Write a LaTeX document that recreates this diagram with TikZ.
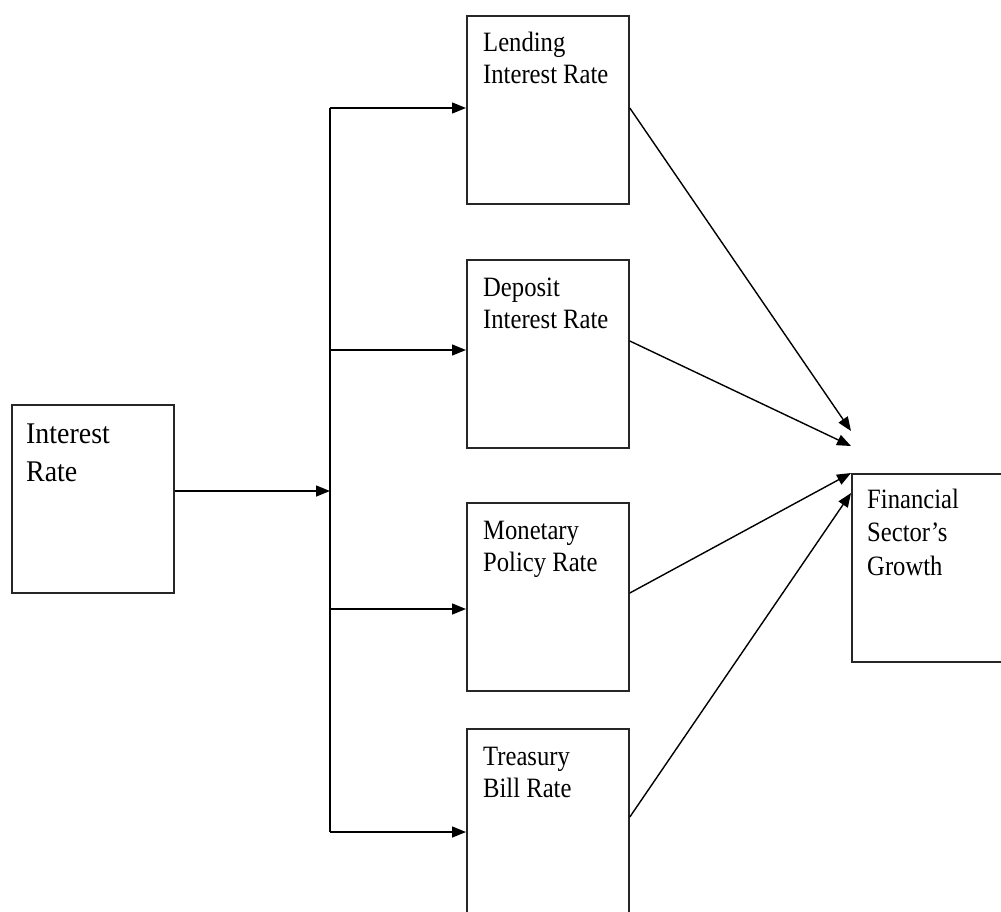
\documentclass[tikz,border=0pt]{standalone}
\usepackage{fontspec}
\setmainfont{Liberation Serif}
\newfontfamily\condserif[FakeStretch=0.88]{Liberation Serif}
\newfontfamily\condserifb[FakeStretch=0.93]{Liberation Serif}
\usetikzlibrary{arrows.meta}
\begin{document}
\begin{tikzpicture}[x=1pt,y=-1pt,
  box/.style={draw=black!85,line width=1.8pt,minimum width=162pt,minimum height=188pt,inner sep=0pt,anchor=north west},
  lbl/.style={anchor=base west,inner sep=0pt,align=left,font=\condserif\fontsize{28}{32}\selectfont},
  conn/.style={line width=1.4pt,-{Triangle[length=14pt,width=11pt]}},
  plain/.style={line width=1.4pt}]
\useasboundingbox (0,0) rectangle (1001,911);
\clip (0,0) rectangle (1001,911);
% boxes
\node[box] (ir) at (11,404) {};
\node[box] (lend) at (466,15) {};
\node[box] (dep) at (466,259) {};
\node[box] (mon) at (466,502) {};
\node[box] (tre) at (466,728) {};
\node[box] (fin) at (851,473) {};
% texts (anchored at baseline of last line)
\node[lbl,font=\condserifb\fontsize{30}{38}\selectfont] (tir) at (26,481) {Interest\\Rate};
\node[lbl] (tlend) at (483,83) {Lending\\Interest Rate};
\node[lbl] (tdep) at (483,328) {Deposit\\Interest Rate};
\node[lbl] (tmon) at (483,571) {Monetary\\Policy Rate};
\node[lbl] (ttre) at (483,797) {Treasury\\Bill Rate};
\node[lbl,font=\condserif\fontsize{28}{33.5}\selectfont] (tfin) at (867,575) {Financial\\Sector’s\\Growth};
% trunk
\coordinate (j) at (330,491);
\coordinate (t1) at (330,108);
\coordinate (t2) at (330,350);
\coordinate (t3) at (330,609);
\coordinate (t4) at (330,832);
\draw[conn] (ir.east |- j) -- (j);
\draw[plain] (t1) -- (t4);
\draw[conn] (t1) -- (lend.west |- t1);
\draw[conn] (t2) -- (dep.west |- t2);
\draw[conn] (t3) -- (mon.west |- t3);
\draw[conn] (t4) -- (tre.west |- t4);
% diagonals
\coordinate (f1) at (851,431);
\coordinate (f2) at (851,446);
\coordinate (f3) at (851,473);
\coordinate (f4) at (851,493);
\draw[conn] (lend.east |- 0,108) -- (f1);
\draw[conn] (dep.east |- 0,341) -- (f2);
\draw[conn] (mon.east |- 0,593) -- (f3);
\draw[conn] (tre.east |- 0,817) -- (f4);
\end{tikzpicture}
\end{document}
